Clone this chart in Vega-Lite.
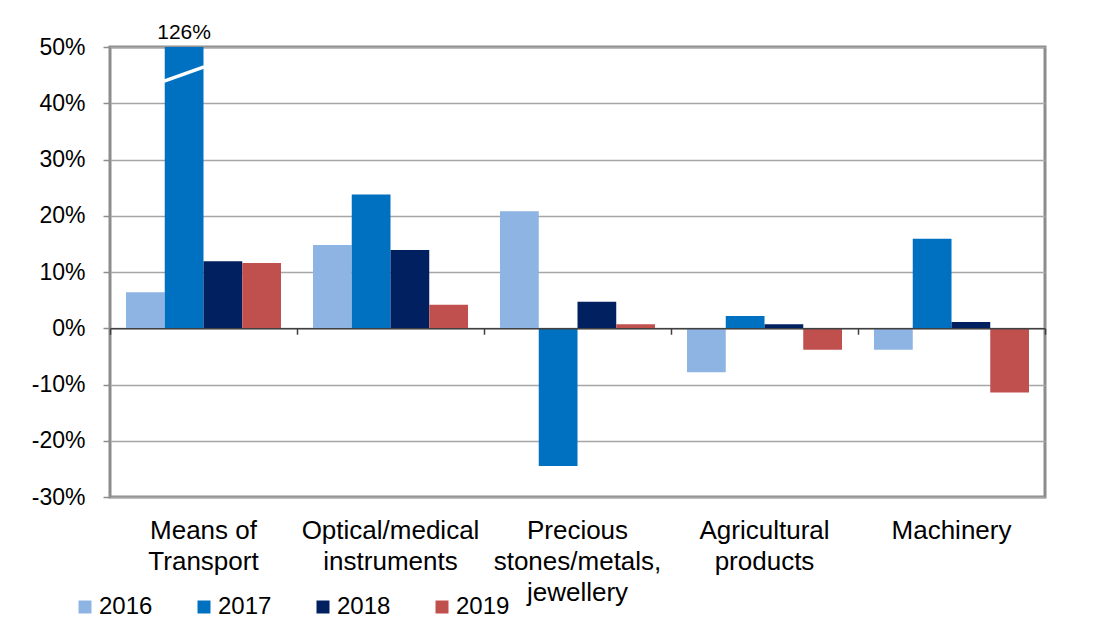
{
  "$schema": "https://vega.github.io/schema/vega-lite/v6.json",
  "width": 935,
  "height": 450,
  "autosize": {"type": "none"},
  "padding": {"left": 110, "top": 47, "right": 58, "bottom": 146},
  "background": "white",
  "config": {
    "font": "Liberation Sans",
    "view": {"stroke": "#8c8c8c", "strokeWidth": 3}
  },
  "datasets": {
    "growth": [
      {"category": "Means of Transport", "year": "2016", "value": 0.064},
      {"category": "Means of Transport", "year": "2017", "value": 1.26},
      {"category": "Means of Transport", "year": "2018", "value": 0.119},
      {"category": "Means of Transport", "year": "2019", "value": 0.116},
      {"category": "Optical/medical instruments", "year": "2016", "value": 0.148},
      {"category": "Optical/medical instruments", "year": "2017", "value": 0.238},
      {"category": "Optical/medical instruments", "year": "2018", "value": 0.139},
      {"category": "Optical/medical instruments", "year": "2019", "value": 0.042},
      {"category": "Precious stones/metals, jewellery", "year": "2016", "value": 0.208},
      {"category": "Precious stones/metals, jewellery", "year": "2017", "value": -0.245},
      {"category": "Precious stones/metals, jewellery", "year": "2018", "value": 0.047},
      {"category": "Precious stones/metals, jewellery", "year": "2019", "value": 0.007},
      {"category": "Agricultural products", "year": "2016", "value": -0.078},
      {"category": "Agricultural products", "year": "2017", "value": 0.022},
      {"category": "Agricultural products", "year": "2018", "value": 0.007},
      {"category": "Agricultural products", "year": "2019", "value": -0.038},
      {"category": "Machinery", "year": "2016", "value": -0.038},
      {"category": "Machinery", "year": "2017", "value": 0.159},
      {"category": "Machinery", "year": "2018", "value": 0.011},
      {"category": "Machinery", "year": "2019", "value": -0.114}
    ],
    "breaks": [
      {"category": "Means of Transport", "year": "2017", "value": 0.452}
    ]
  },
  "layer": [
    {
      "data": {"name": "growth"},
      "mark": {"type": "bar"},
      "encoding": {
        "x": {
          "field": "category",
          "type": "nominal",
          "sort": null,
          "scale": {"paddingInner": 0, "paddingOuter": 0},
          "axis": {
            "orient": "bottom",
            "title": null,
            "labelFontSize": 26,
            "labelColor": "black",
            "labelAngle": 0,
            "labelPadding": 20,
            "labelLineHeight": 31,
            "labelBaseline": "top",
            "domain": false,
            "ticks": false,
            "grid": false,
            "labelExpr": "datum.value == 'Means of Transport' ? ['Means of', 'Transport'] : datum.value == 'Optical/medical instruments' ? ['Optical/medical', 'instruments'] : datum.value == 'Precious stones/metals, jewellery' ? ['Precious', 'stones/metals,', 'jewellery'] : datum.value == 'Agricultural products' ? ['Agricultural', 'products'] : datum.label"
          }
        },
        "xOffset": {
          "field": "year",
          "type": "nominal",
          "scale": {"paddingInner": 0, "paddingOuter": 0.413}
        },
        "y": {
          "field": "value",
          "type": "quantitative",
          "scale": {"domain": [-0.3, 0.5], "nice": false, "clamp": true, "zero": false},
          "axis": {
            "title": null,
            "format": ".0%",
            "labelExpr": "replace(datum.label, '\u2212', '-')",
            "values": [-0.3, -0.2, -0.1, 0, 0.1, 0.2, 0.3, 0.4, 0.5],
            "labelFontSize": 23,
            "labelColor": "black",
            "labelPadding": 18,
            "tickSize": 7,
            "tickColor": "#8c8c8c",
            "tickWidth": 1.5,
            "gridColor": "#a6a6a6",
            "gridWidth": 1.5,
            "domain": false
          }
        },
        "color": {
          "field": "year",
          "type": "nominal",
          "scale": {"domain": ["2016", "2017", "2018", "2019"], "range": ["#8EB4E3", "#0070C0", "#002060", "#C0504D"]},
          "legend": {
            "title": null,
            "orient": "none",
            "legendX": -37,
            "legendY": 548,
            "direction": "horizontal",
            "symbolType": "square",
            "symbolSize": 169,
            "symbolStrokeWidth": 0,
            "labelFontSize": 24,
            "labelColor": "black",
            "labelOffset": 2,
            "columnPadding": 39,
            "padding": 0
          }
        }
      }
    },
    {
      "data": {"name": "breaks"},
      "mark": {"type": "point", "shape": "M -1 0.36 L 1 -0.36", "filled": false, "stroke": "white", "strokeWidth": 3.5, "opacity": 1, "size": 1600},
      "encoding": {
        "x": {
          "field": "category",
          "type": "nominal",
          "sort": null,
          "axis": {
            "orient": "bottom",
            "offset": -168.75,
            "title": null,
            "labels": false,
            "grid": false,
            "ticks": true,
            "tickBand": "extent",
            "tickSize": 6,
            "tickColor": "#404040",
            "tickWidth": 1.5,
            "domainColor": "#404040",
            "domainWidth": 1.5,
            "zindex": 1
          }
        },
        "xOffset": {"field": "year", "type": "nominal"},
        "y": {"field": "value", "type": "quantitative"}
      }
    },
    {
      "data": {"name": "growth"},
      "transform": [{"filter": "datum.value > 0.5"}],
      "mark": {"type": "text", "fontSize": 21, "dy": -14, "color": "black"},
      "encoding": {
        "x": {"field": "category", "type": "nominal", "sort": null, "axis": null},
        "xOffset": {"field": "year", "type": "nominal"},
        "y": {"field": "value", "type": "quantitative"},
        "text": {"field": "value", "type": "quantitative", "format": ".0%"}
      }
    }
  ],
  "resolve": {"axis": {"x": "independent"}}
}
